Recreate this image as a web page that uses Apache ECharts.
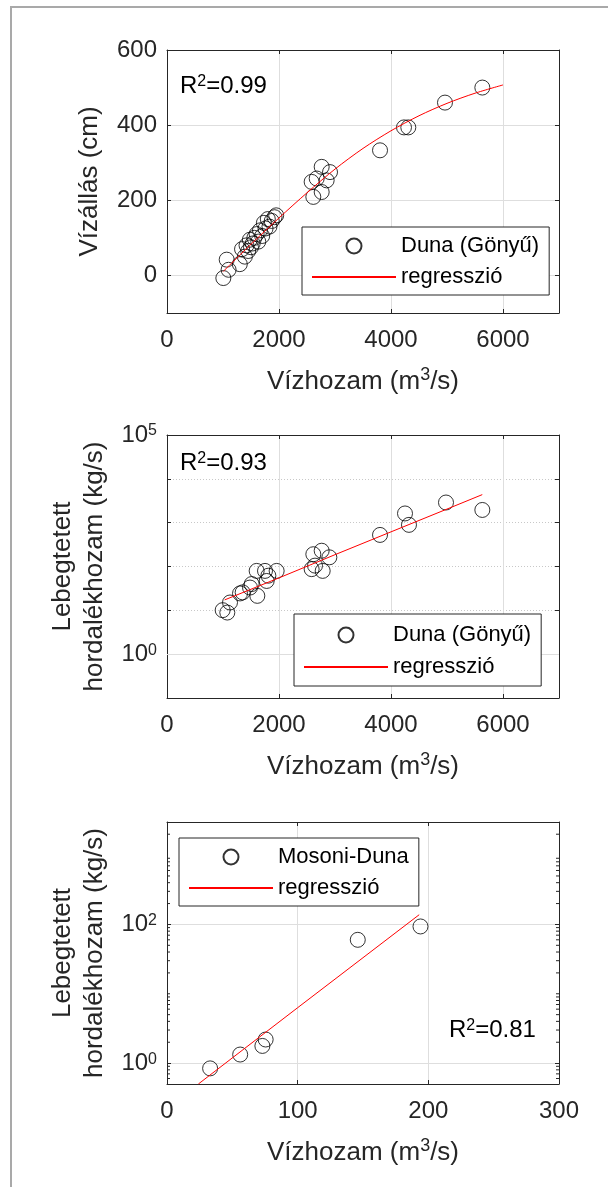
<!DOCTYPE html>
<html>
<head>
<meta charset="utf-8">
<script src="https://cdn.jsdelivr.net/npm/echarts@6/dist/echarts.min.js"></script>
<style>
html, body { margin: 0; padding: 0; background: #fff; }
#chart { width: 608px; height: 1187px; }
</style>
</head>
<body>
<div id="chart"></div>
<script>
// Duna (Gönyű) - vízhozam / vízállás
const dunaQ = [1006, 1066, 1100, 1300, 1340, 1390, 1420, 1450, 1480, 1500, 1530, 1560, 1600, 1630,
  1660, 1700, 1730, 1760, 1800, 1830, 1870, 1920, 1950, 2583, 2613, 2673, 2762, 2762, 2851, 2911,
  3804, 4232, 4309, 4964, 5631]
const dunaH = [-7, 42, 15, 30, 70, 50, 80, 65, 95, 75, 85, 100, 110, 90,
  120, 105, 140, 125, 150, 130, 145, 155, 160, 249, 209, 258, 289, 222, 253, 275,
  333, 394, 394, 460, 500]
const regQ1 = [1000, 1500, 2000, 2500, 3000, 3500, 4000, 4500, 5000, 5500, 6000]
const regH1 = [10, 83, 153, 220, 283, 338, 385, 425, 458, 485, 507]

// Duna (Gönyű) - vízhozam / lebegtetett hordalékhozam
const dunaQs = [994, 1077, 1125, 1304, 1351, 1482, 1512, 1601, 1613, 1750, 1780, 1810, 1958,
  2583, 2613, 2643, 2762, 2780, 2899, 3804, 4250, 4321, 4982, 5631]
const dunaS = [10.1, 8.9, 15.1, 24.3, 25.7, 33.1, 39.8, 79.4, 21.4, 79.4, 46.8, 61.7, 79.4,
  87.1, 190.5, 104.7, 229, 79.4, 162, 525, 1622, 891, 2884, 1950]
const regQ2 = [1030, 2000, 3000, 4000, 5000, 5630]
const regS2 = [17.3, 55, 186, 617, 2042, 4365]

// Mosoni-Duna
const mosoniQ = [33, 56, 73, 75.5, 146, 194]
const mosoniS = [0.84, 1.33, 1.77, 2.19, 60, 93.5]
const regQ3 = [24, 100, 193]
const regS3 = [0.5, 6.3, 138]

// tick labels
const xTicks1 = [0, 2000, 4000, 6000]
const yTicks1 = [0, 200, 400, 600]
const yTicks2 = [0.1, 1, 10, 100, 1000, 10000, 100000]
const yLabels2 = [1, 100000]
const xTicks3 = [0, 100, 200, 300]
const yTicks3 = [1, 100]
const yMinor3 = [0.6, 0.7, 0.8, 0.9, 2, 3, 4, 5, 6, 7, 8, 9, 10, 20, 30, 40, 50, 60, 70, 80, 90,
  200, 300, 400, 500, 600, 700, 800, 900, 2000]

const FONT = 'Liberation Sans'
const INK = '#262626'
const GRID_C = '#dedede'

const zip = (a, b) => a.map((v, i) => [v, b[i]])
const plain = v => String(v)
const pow10 = v => '{b|10}{s|' + Math.round(Math.log10(v)) + '}'
const supRich = {
  b: { fontSize: 24, fontFamily: FONT, color: INK },
  s: { fontSize: 16, fontFamily: FONT, color: INK, verticalAlign: 'top', lineHeight: 12 }
}
const xName = 'Vízhozam (m{s|3}/s)'
const nameStyle = {
  fontSize: 26, fontFamily: FONT, color: INK, lineHeight: 32,
  rich: { s: { fontSize: 18, fontFamily: FONT, color: INK, verticalAlign: 'top', lineHeight: 12 } }
}

function xAxes(gridIndex, max, ticks) {
  const line = { show: true, onZero: false, lineStyle: { color: INK, width: 1 } }
  const tick = { show: true, inside: true, length: 4, customValues: ticks, lineStyle: { color: INK } }
  return [{
    type: 'value', gridIndex, min: 0, max, position: 'bottom',
    axisLine: line, axisTick: tick,
    axisLabel: { customValues: ticks, formatter: plain, margin: 15, fontSize: 24, color: INK, fontFamily: FONT },
    splitLine: { show: true, lineStyle: { color: GRID_C, width: 1 } },
    name: xName, nameLocation: 'middle', nameGap: 53, nameTextStyle: nameStyle
  }, {
    type: 'value', gridIndex, min: 0, max, position: 'top',
    axisLine: line, axisTick: tick, axisLabel: { show: false }, splitLine: { show: false }
  }]
}

function yAxes(gridIndex, base, ticks, labels, split, name, nameGap) {
  const line = { show: true, onZero: false, lineStyle: { color: INK, width: 1 } }
  const tick = { show: true, inside: true, length: 4, customValues: ticks, lineStyle: { color: INK } }
  const label = { customValues: labels, formatter: plain, margin: 10, fontSize: 24, color: INK, fontFamily: FONT }
  if (base.type === 'log') {
    label.formatter = pow10
    label.rich = supRich
  }
  return [Object.assign({}, base, {
    gridIndex, position: 'left',
    axisLine: line, axisTick: tick, axisLabel: label, splitLine: split,
    name, nameLocation: 'middle', nameGap, nameTextStyle: nameStyle
  }), Object.assign({}, base, {
    gridIndex, position: 'right',
    axisLine: line, axisTick: tick, axisLabel: { show: false }, splitLine: { show: false }
  })]
}

// the regression line gets an invisible legend marker, only its red line shows
const regItem = { name: 'regresszió', itemStyle: { color: 'rgba(0,0,0,0)', borderColor: 'rgba(0,0,0,0)', borderWidth: 0 } }

function legendBox(names, left, top, gap, padding) {
  return {
    data: names, orient: 'vertical', left, top, align: 'left',
    itemWidth: 84, itemHeight: 15, itemGap: gap, padding,
    backgroundColor: '#fff', borderColor: INK, borderWidth: 1, borderRadius: 0,
    selectedMode: false, z: 10,
    textStyle: { fontSize: 22, color: '#000', fontFamily: FONT, lineHeight: 20 }
  }
}

function r2Text(x, y, txt) {
  return {
    type: 'text', x, y, silent: true, z: 20,
    style: {
      text: 'R{s|2}=' + txt, fontSize: 24, fontFamily: FONT, fill: '#000', verticalAlign: 'middle',
      rich: { s: { fontSize: 16, fontFamily: FONT, fill: '#000', verticalAlign: 'top', lineHeight: 12 } }
    }
  }
}

const circle = { color: 'rgba(0,0,0,0)', borderColor: '#000', borderWidth: 1 }
const red = { color: '#ff0000', width: 1 }
const noMark = { color: 'rgba(0,0,0,0)', borderColor: 'rgba(0,0,0,0)', borderWidth: 0 }

const chart = echarts.init(document.getElementById('chart'), null, { renderer: 'canvas' })
chart.setOption({
  animation: false,
  backgroundColor: '#fff',
  grid: [
    { left: 167, top: 50, width: 392, height: 263, outerBoundsMode: 'none' },
    { left: 167, top: 435, width: 392, height: 263, outerBoundsMode: 'none' },
    { left: 167, top: 822, width: 392, height: 262, outerBoundsMode: 'none' }
  ],
  xAxis: [].concat(
    xAxes(0, 7000, xTicks1),
    xAxes(1, 7000, xTicks1),
    xAxes(2, 300, xTicks3)
  ),
  yAxis: [].concat(
    yAxes(0, { type: 'value', min: -100, max: 600, interval: 100 }, yTicks1, yTicks1,
      { show: true, lineStyle: { color: GRID_C, width: 1 } }, 'Vízállás (cm)', 53),
    yAxes(1, { type: 'log', logBase: 10, min: 0.1, max: 100000 }, yTicks2, yLabels2,
      { show: true, lineStyle: { color: '#c8c8c8', width: 1, type: [1, 2] } },
      'Lebegtetett\nhordalékhozam (kg/s)', 52),
    yAxes(2, { type: 'log', logBase: 10, min: 0.5, max: 3000 }, yTicks3, yTicks3,
      { show: true, lineStyle: { color: GRID_C, width: 1 } },
      'Lebegtetett\nhordalékhozam (kg/s)', 52)
  ),
  legend: [
    legendBox(['Duna (Gönyű)', regItem], 302, 227, 9, [8, 10, 7, 9]),
    legendBox(['Duna (Gönyű)', regItem], 294, 614, 10, [10, 10, 8, 9]),
    legendBox(['Mosoni-Duna', regItem], 179, 838, 9, [8, 10, 7, 9])
  ],
  graphic: [
    { type: 'rect', silent: true, z: -10, shape: { x: 11, y: 7, width: 640, height: 1220 },
      style: { fill: 'none', stroke: '#a9a9a9', lineWidth: 2 } },
    r2Text(180, 86, '0.99'),
    r2Text(180, 463, '0.93'),
    r2Text(449, 1030, '0.81')
  ],
  series: [
    { name: 'Duna (Gönyű)', type: 'scatter', xAxisIndex: 0, yAxisIndex: 0, symbol: 'circle',
      symbolSize: 15, itemStyle: circle, data: zip(dunaQ, dunaH) },
    { name: 'regresszió', type: 'line', xAxisIndex: 0, yAxisIndex: 0, symbol: 'none', smooth: 0.3,
      lineStyle: red, itemStyle: noMark, data: zip(regQ1, regH1) },
    { name: 'Duna (Gönyű)', type: 'scatter', xAxisIndex: 2, yAxisIndex: 2, symbol: 'circle',
      symbolSize: 15, itemStyle: circle, data: zip(dunaQs, dunaS),
      markLine: { silent: true, symbol: 'none', label: { show: false }, animation: false,
        lineStyle: { color: GRID_C, type: 'solid', width: 1 }, data: [{ yAxis: 1 }] } },
    { name: 'regresszió', type: 'line', xAxisIndex: 2, yAxisIndex: 2, symbol: 'none',
      lineStyle: red, itemStyle: noMark, data: zip(regQ2, regS2) },
    { name: 'Mosoni-Duna', type: 'scatter', xAxisIndex: 4, yAxisIndex: 4, symbol: 'circle',
      symbolSize: 15, itemStyle: circle, data: zip(mosoniQ, mosoniS) },
    { name: 'regresszió', type: 'line', xAxisIndex: 4, yAxisIndex: 4, symbol: 'none',
      lineStyle: red, itemStyle: noMark, data: zip(regQ3, regS3) },
    // minor ticks of the Mosoni-Duna log axis, both sides
    { type: 'custom', xAxisIndex: 4, yAxisIndex: 4, silent: true, clip: false, z: 5,
      data: yMinor3.map(v => [0, v]), encode: { x: 0, y: 1 },
      renderItem: (params, api) => {
        const v = api.value(1)
        const l = api.coord([0, v])
        const r = api.coord([300, v])
        return {
          type: 'group', children: [
            { type: 'line', shape: { x1: l[0], y1: l[1], x2: l[0] + 3, y2: l[1] }, style: { stroke: INK, lineWidth: 1 } },
            { type: 'line', shape: { x1: r[0] - 3, y1: r[1], x2: r[0], y2: r[1] }, style: { stroke: INK, lineWidth: 1 } }
          ]
        }
      } }
  ]
})
</script>
</body>
</html>
